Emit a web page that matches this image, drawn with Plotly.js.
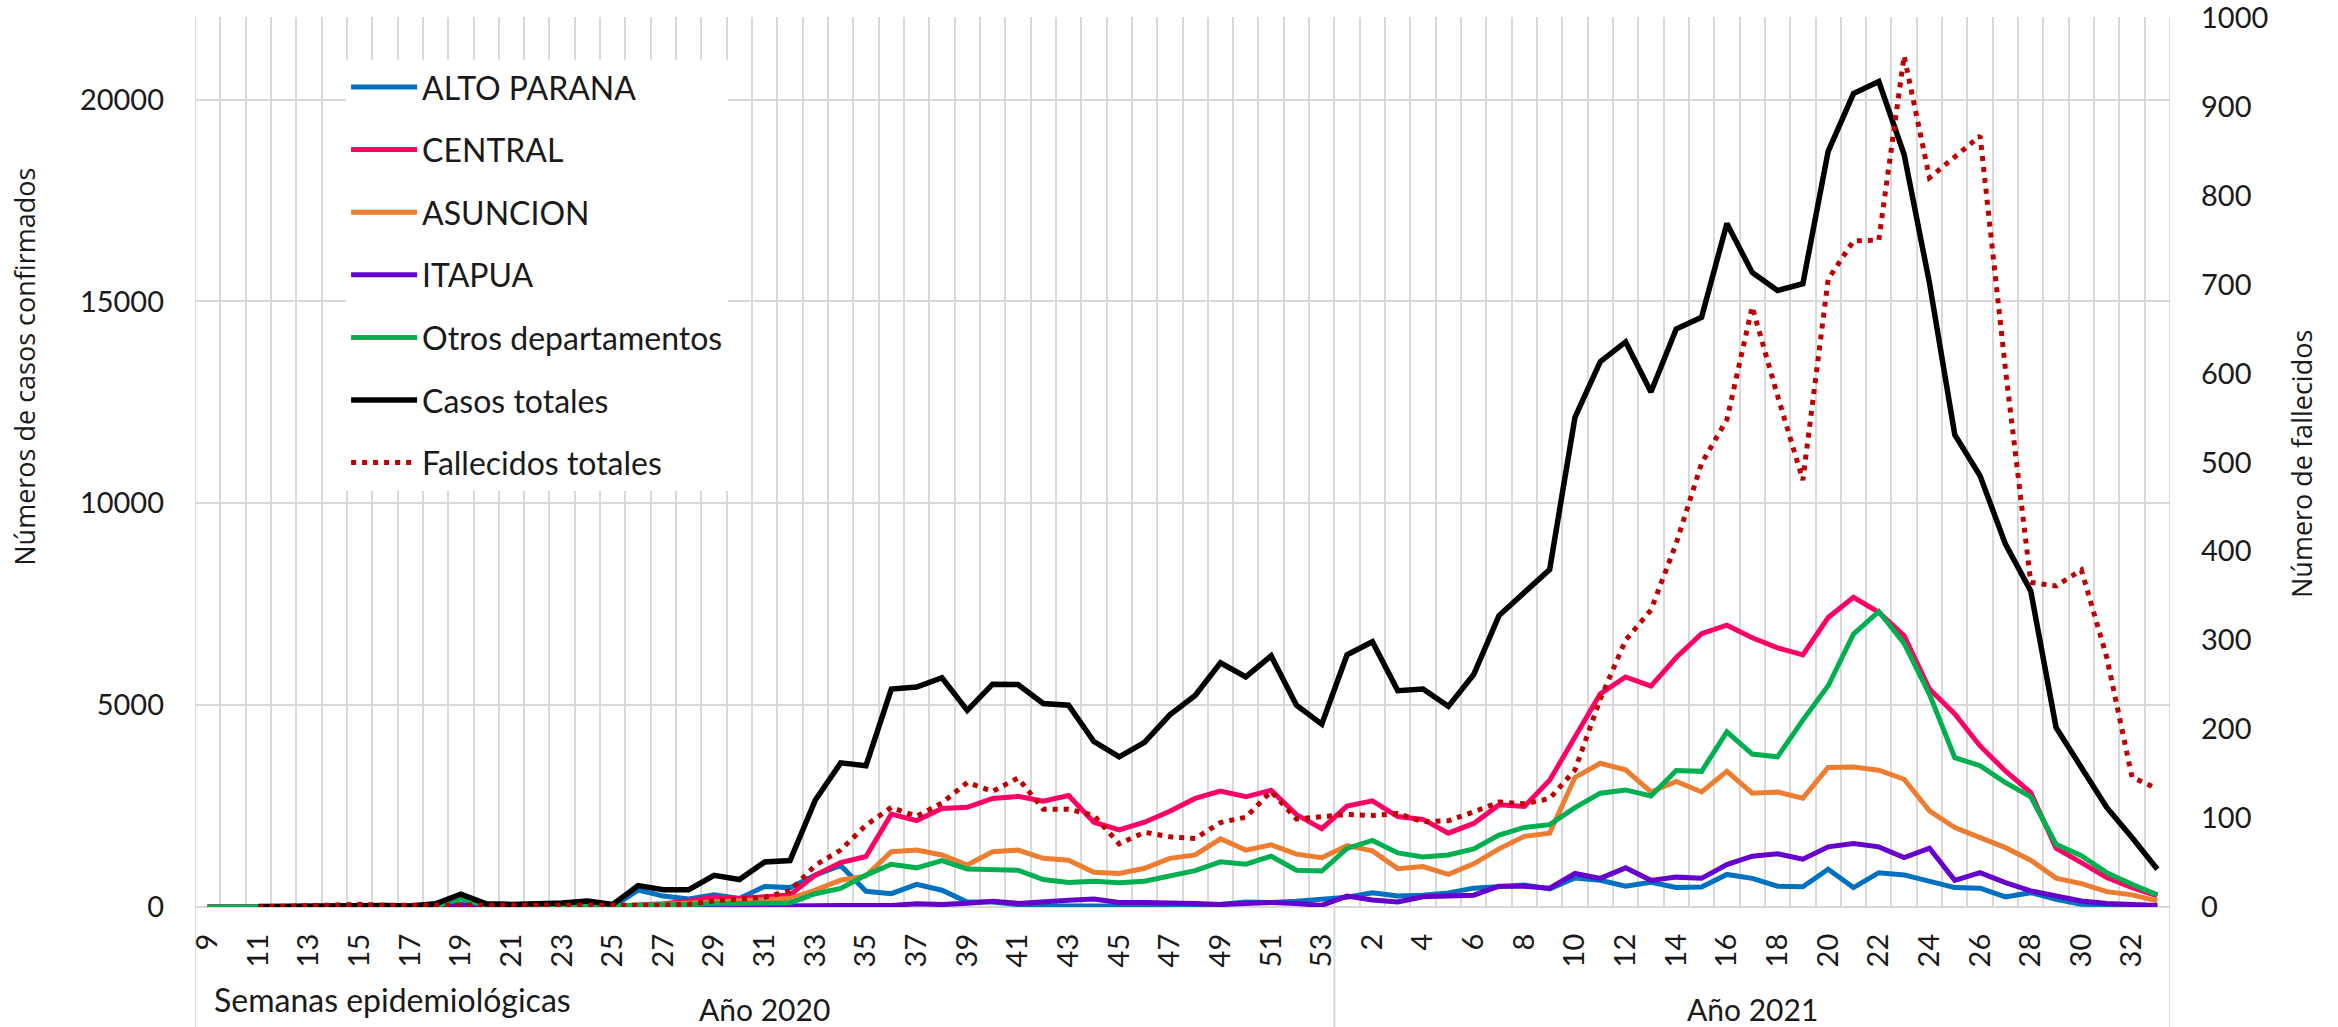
<!DOCTYPE html>
<html><head><meta charset="utf-8">
<script src="https://cdn.plot.ly/plotly-3.0.1.min.js"></script>
<style>html,body{margin:0;padding:0;background:#fff}#chart{width:2338px;height:1027px}</style>
</head><body><div id="chart"></div>
<script>
// Epidemiological weeks
const weeks2020 = ["9","10","11","12","13","14","15","16","17","18","19","20","21","22","23","24","25","26","27","28","29","30","31","32","33","34","35","36","37","38","39","40","41","42","43","44","45","46","47","48","49","50","51","52","53"];
const weeks2021 = ["1","2","3","4","5","6","7","8","9","10","11","12","13","14","15","16","17","18","19","20","21","22","23","24","25","26","27","28","29","30","31","32","33"];
const yearLabels = ["Año 2020", "Año 2021"];

// Confirmed cases by department (2020 weeks 9-53, then 2021 weeks 1-33)
const altoParana = [0,0,0,0,0,0,0,0,0,0,5,0,0,0,0,5,10,420,270,200,300,210,510,480,
  790,1030,390,330,560,415,125,125,60,30,20,20,15,20,30,40,60,125,110,140,190,
  240,350,272,292,350,467,515,544,447,720,661,515,612,486,496,807,710,515,
  500,935,480,850,795,650,480,465,250,355,190,70,60,40,30];
const central = [0,0,2,5,10,10,8,12,10,20,30,20,15,20,25,30,20,50,80,150,250,210,240,300,
  790,1100,1250,2300,2140,2440,2470,2690,2740,2620,2760,2100,1910,2100,2370,2690,2870,2730,2890,2290,1940,
  2500,2630,2240,2170,1830,2070,2530,2490,3140,4210,5280,5700,5470,6180,6770,6980,6670,6420,
  6245,7170,7670,7300,6720,5400,4780,3990,3370,2835,1455,1100,730,480,275];
const asuncion = [0,0,5,10,20,20,15,20,15,30,40,30,20,25,30,40,20,40,70,100,130,130,160,210,
  420,665,770,1370,1410,1290,1040,1370,1410,1205,1160,860,830,960,1205,1290,1690,1410,1540,1310,1220,
  1520,1390,950,1000,810,1070,1440,1750,1830,3210,3560,3400,2850,3110,2850,3360,2820,2850,
  2695,3455,3470,3390,3165,2380,1970,1720,1470,1160,715,580,380,300,150];
const itapua = [0,0,0,0,0,0,0,0,0,2,60,5,2,2,5,10,5,5,10,10,15,15,20,30,
  30,40,30,40,80,60,90,140,90,140,170,200,110,110,110,85,65,85,110,85,40,
  270,175,126,253,272,292,515,515,467,830,710,970,660,740,710,1050,1260,1320,
  1185,1490,1570,1490,1225,1455,660,850,605,400,275,150,85,50,40];
const otros = [0,0,0,2,5,5,5,5,5,20,200,30,20,30,40,60,30,40,20,60,80,80,100,100,
  330,460,790,1060,970,1150,940,910,910,680,610,640,600,640,770,900,1120,1060,1260,910,890,
  1450,1650,1340,1240,1290,1440,1780,1970,2040,2460,2820,2900,2750,3380,3360,4340,3790,3720,
  4630,5480,6760,7320,6530,5270,3700,3500,3080,2730,1555,1270,850,565,300];
const casosTotales = [null,null,10,20,30,30,25,40,25,80,320,80,65,80,100,150,65,530,430,430,785,680,1115,1150,
  2650,3570,3500,5400,5450,5680,4870,5520,5510,5040,5000,4100,3720,4080,4760,5240,6050,5700,6220,5000,4530,
  6250,6570,5360,5400,4970,5760,7220,7800,8360,12130,13510,14000,12760,14320,14610,16930,15720,15270,
  15440,18720,20150,20450,18640,15460,11700,10680,8990,7830,4450,3455,2465,1720,935];
// Deaths (secondary axis)
const fallecidos = [null,null,0,1,1,2,3,2,2,1,1,1,1,1,2,2,1,2,2,3,7,9,11,18,
  47,64,92,112,102,117,140,130,145,110,110,103,71,84,79,77,95,101,130,99,102,
  104,103,105,96,97,107,118,116,122,154,234,300,334,409,499,548,675,575,
  480,706,749,750,957,820,843,867,605,365,361,379,281,146,133];

const leftTicks = [0,5000,10000,15000,20000];
const rightTicks = [0,100,200,300,400,500,600,700,800,900,1000];

const categories = weeks2020.concat(weeks2021);
const xs = categories.map((_, i) => i);
const tickvals = xs.filter(i => i % 2 === 0);
const ticktext = tickvals.map(i => categories[i]);
const n20 = weeks2020.length, nAll = categories.length;

const series = [
  {name:'ALTO PARANA', y:altoParana, color:'#0070C0', w:5},
  {name:'CENTRAL', y:central, color:'#FF0066', w:5},
  {name:'ASUNCION', y:asuncion, color:'#ED7D31', w:5},
  {name:'ITAPUA', y:itapua, color:'#6600CC', w:5},
  {name:'Otros departamentos', y:otros, color:'#00B050', w:5},
  {name:'Casos totales', y:casosTotales, color:'#000000', w:5.5}
];
const traces = series.map((s, k) => ({
  x: xs, y: s.y, name: s.name, type:'scatter', mode:'lines',
  line:{color:s.color, width:s.w}, legendgroup:'g'+k, connectgaps:false
}));
traces.push({
  x: xs, y: fallecidos, name:'Fallecidos totales', type:'scatter', mode:'lines',
  yaxis:'y2', line:{color:'#C00000', width:5, dash:'5px,6px'}, legendgroup:'g6'
});

const gray = '#d9d9d9';
const titleFont = {family:'Open Sans, Noto Sans, sans-serif', size:27, color:'#1a1a1a'};
const yTop = 1000.8;
const layout = {
  width:2338, height:1027,
  margin:{l:195, r:168, t:17, b:120, pad:0},
  paper_bgcolor:'#ffffff', plot_bgcolor:'#ffffff',
  font:{family:'Lato, sans-serif', size:29, color:'#1a1a1a'},
  showlegend:true,
  legend:{x:0.0765, y:0.952, xanchor:'left', yanchor:'top', bgcolor:'#ffffff',
    borderwidth:0, tracegroupgap:18, itemwidth:66,
    font:{family:'Lato, sans-serif', size:32, color:'#1a1a1a'}},
  xaxis:{range:[-0.5, nAll-0.5], tickmode:'array', tickvals:tickvals, ticktext:ticktext,
    tickangle:-90, showgrid:false, zeroline:false, showline:false, ticks:'',
    ticklabelstandoff:20,
    minor:{tickmode:'linear', tick0:-0.5, dtick:1, showgrid:true, gridcolor:gray, gridwidth:2, ticks:''}},
  yaxis:{range:[0, 22030*yTop/1000], tickmode:'array', tickvals:leftTicks, tickformat:'d',
    showgrid:true, gridcolor:gray, gridwidth:2,
    zeroline:true, zerolinecolor:gray, zerolinewidth:2, showline:false, ticks:'', ticklabelstandoff:30},
  yaxis2:{overlaying:'y', side:'right', range:[0, yTop], tickmode:'array', tickvals:rightTicks, tickformat:'d',
    showgrid:false, zeroline:false, showline:false, ticks:'', ticklabelstandoff:30, ticklabeloverflow:'allow'},
  annotations:[
    {text:'Números de casos confirmados', xref:'paper', yref:'paper', x:-0.0861, y:0.607,
      textangle:-90, showarrow:false, xanchor:'center', yanchor:'middle', font:titleFont},
    {text:'Número de fallecidos', xref:'paper', yref:'paper', x:1.0663, y:0.4977,
      textangle:-90, showarrow:false, xanchor:'center', yanchor:'middle', font:titleFont},
    {text:'Semanas epidemiológicas', xref:'paper', yref:'paper', x:0.0086, y:-0.1035,
      showarrow:false, xanchor:'left', yanchor:'middle', font:{size:32}},
    {text:yearLabels[0], xref:'x', yref:'paper', x:(n20-1)/2, y:-0.1147,
      showarrow:false, xanchor:'center', yanchor:'middle', font:{size:30}},
    {text:yearLabels[1], xref:'x', yref:'paper', x:n20+(nAll-n20-1)/2, y:-0.1147,
      showarrow:false, xanchor:'center', yanchor:'middle', font:{size:30}}
  ],
  shapes:[
    {type:'line', xref:'x', yref:'paper', x0:-0.5, x1:-0.5, y0:1, y1:-0.135, line:{color:gray, width:2}, layer:'below'},
    {type:'line', xref:'x', yref:'paper', x0:n20-0.5, x1:n20-0.5, y0:0, y1:-0.135, line:{color:gray, width:2}, layer:'below'},
    {type:'line', xref:'x', yref:'paper', x0:nAll-0.5, x1:nAll-0.5, y0:1, y1:-0.135, line:{color:gray, width:2}, layer:'below'}
  ]
};
Plotly.newPlot('chart', traces, layout, {displayModeBar:false, staticPlot:true});
</script>
</body></html>
